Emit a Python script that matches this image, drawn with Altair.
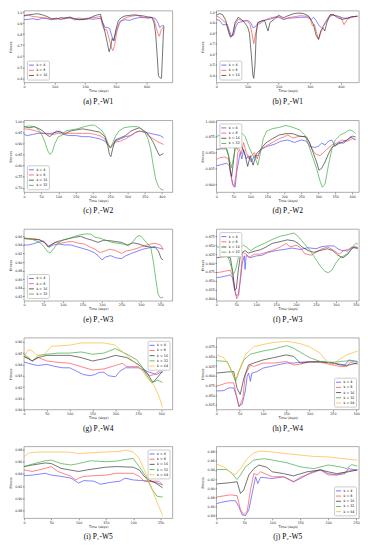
import altair as alt
import pandas as pd

LABELS = ["k = 4", "k = 8", "k = 16", "k = 32", "k = 64"]
COLORS = ["#4a4aff", "#ff4a4a", "#333333", "#3aa83a", "#ffb52e"]

# (a) P1-W1
A_K4 = [(0,0.93),(15,0.935),(30,0.94),(45,0.93),(60,0.945),(75,0.94),(90,0.93),(105,0.945),(120,0.935),(135,0.94),(150,0.95),(165,0.93),(180,0.935),(195,0.93),(210,0.94),(225,0.935),(240,0.94),(250,0.945),(258,0.90),(265,0.86),(272,0.86),(280,0.85),(287,0.78),(292,0.74),(298,0.80),(305,0.86),(315,0.92),(330,0.93),(345,0.925),(360,0.94),(375,0.95),(390,0.95),(405,0.945),(420,0.95),(430,0.94),(438,0.90),(443,0.86),(450,0.875),(457,0.88)]
A_K8 = [(0,0.965),(15,0.97),(30,0.96),(45,0.955),(60,0.95),(75,0.945),(90,0.935),(105,0.945),(120,0.93),(135,0.95),(150,0.945),(165,0.94),(180,0.945),(195,0.94),(210,0.945),(225,0.95),(240,0.955),(250,0.96),(256,0.88),(262,0.84),(270,0.84),(278,0.76),(285,0.68),(290,0.65),(296,0.70),(303,0.82),(312,0.90),(325,0.94),(340,0.955),(355,0.965),(370,0.97),(385,0.955),(400,0.95),(415,0.955),(425,0.93),(432,0.86),(438,0.80),(442,0.78),(448,0.84),(457,0.87)]
A_K16 = [(0,0.97),(15,0.975),(30,0.98),(45,0.985),(60,0.975),(75,0.96),(90,0.94),(105,0.935),(120,0.95),(135,0.945),(150,0.955),(165,0.94),(180,0.93),(195,0.935),(210,0.94),(225,0.96),(240,0.975),(250,0.98),(255,0.92),(260,0.87),(266,0.80),(272,0.72),(278,0.64),(283,0.68),(288,0.76),(294,0.74),(300,0.84),(308,0.92),(318,0.95),(330,0.965),(345,0.97),(360,0.975),(375,0.97),(390,0.965),(405,0.955),(418,0.95),(425,0.90),(430,0.80),(435,0.60),(439,0.42),(445,0.40),(449,0.40),(452,0.60),(455,0.80),(457,0.87)]

# (b) P2-W1
B_K4 = [(0,0.93),(10,0.92),(20,0.88),(35,0.88),(42,0.82),(48,0.77),(55,0.78),(62,0.86),(70,0.90),(85,0.91),(100,0.92),(110,0.90),(118,0.85),(125,0.86),(135,0.90),(150,0.92),(170,0.93),(185,0.945),(200,0.95),(215,0.93),(230,0.94),(250,0.945),(270,0.95),(290,0.95),(305,0.93),(312,0.95),(320,0.92),(330,0.87),(338,0.85),(345,0.87),(355,0.92),(365,0.96),(375,0.97),(390,0.96),(405,0.945),(420,0.94),(435,0.955),(453,0.96)]
B_K8 = [(0,0.96),(10,0.95),(20,0.92),(30,0.90),(38,0.84),(45,0.77),(52,0.78),(60,0.88),(70,0.93),(85,0.92),(100,0.915),(108,0.88),(114,0.80),(120,0.70),(125,0.78),(132,0.88),(145,0.90),(160,0.93),(175,0.945),(200,0.96),(215,0.93),(230,0.945),(250,0.955),(270,0.965),(290,0.96),(300,0.95),(308,0.87),(315,0.88),(322,0.80),(328,0.74),(335,0.80),(345,0.88),(355,0.93),(365,0.97),(375,0.975),(390,0.96),(400,0.95),(410,0.88),(420,0.93),(435,0.95),(453,0.96)]
B_K16 = [(0,0.97),(10,0.985),(20,0.975),(30,0.92),(38,0.82),(45,0.76),(52,0.78),(60,0.90),(70,0.95),(80,0.93),(90,0.90),(100,0.86),(106,0.80),(112,0.60),(117,0.40),(120,0.37),(124,0.50),(128,0.80),(133,0.90),(145,0.915),(155,0.92),(162,0.85),(166,0.82),(172,0.90),(185,0.93),(200,0.97),(215,0.945),(230,0.965),(250,0.985),(265,0.99),(280,0.985),(295,0.965),(305,0.92),(312,0.88),(320,0.78),(328,0.74),(335,0.82),(342,0.85),(348,0.82),(355,0.90),(365,0.975),(375,0.975),(390,0.945),(405,0.93),(420,0.94),(435,0.955),(453,0.96)]

# (c) P1-W2
C_K4 = [(0,0.94),(10,0.935),(25,0.94),(40,0.945),(60,0.945),(80,0.945),(95,0.95),(105,0.955),(115,0.94),(130,0.935),(150,0.935),(170,0.93),(190,0.93),(205,0.925),(220,0.92),(235,0.91),(245,0.89),(252,0.88),(258,0.895),(265,0.91),(280,0.92),(295,0.93),(310,0.935),(325,0.95),(335,0.955),(350,0.95),(365,0.945),(380,0.94),(395,0.935),(405,0.925)]
C_K8 = [(0,0.965),(15,0.963),(30,0.958),(45,0.95),(55,0.945),(70,0.942),(85,0.94),(100,0.945),(115,0.94),(130,0.945),(150,0.945),(170,0.945),(190,0.945),(205,0.94),(220,0.935),(235,0.92),(245,0.895),(250,0.88),(256,0.89),(265,0.905),(280,0.91),(295,0.92),(310,0.935),(325,0.95),(338,0.955),(350,0.95),(360,0.935),(375,0.92),(390,0.905),(405,0.895)]
C_K16 = [(0,0.975),(15,0.97),(30,0.975),(45,0.965),(55,0.955),(65,0.94),(75,0.93),(85,0.945),(95,0.955),(105,0.95),(120,0.945),(135,0.955),(150,0.96),(170,0.965),(190,0.96),(205,0.955),(220,0.95),(235,0.93),(243,0.89),(248,0.85),(252,0.84),(258,0.88),(265,0.915),(280,0.925),(295,0.935),(310,0.955),(325,0.965),(335,0.97),(345,0.96),(355,0.95),(365,0.93),(375,0.905),(385,0.87),(393,0.845),(400,0.85),(405,0.855)]
C_K32 = [(0,0.975),(15,0.978),(30,0.975),(40,0.965),(50,0.945),(60,0.91),(68,0.87),(75,0.85),(82,0.86),(90,0.90),(100,0.93),(110,0.935),(120,0.955),(135,0.96),(155,0.965),(175,0.975),(195,0.982),(205,0.982),(215,0.97),(225,0.96),(235,0.935),(245,0.895),(250,0.88),(257,0.90),(265,0.93),(275,0.955),(290,0.97),(310,0.975),(330,0.975),(340,0.965),(350,0.95),(360,0.92),(368,0.87),(375,0.80),(382,0.74),(390,0.705),(398,0.693),(405,0.69)]

# (d) P2-W2
D_K4 = [(0,0.929),(15,0.931),(30,0.933),(38,0.929),(44,0.91),(50,0.897),(55,0.895),(60,0.92),(65,0.935),(70,0.95),(75,0.94),(80,0.955),(88,0.94),(95,0.945),(103,0.935),(112,0.945),(122,0.945),(132,0.955),(150,0.96),(170,0.963),(190,0.968),(210,0.97),(230,0.966),(250,0.97),(265,0.968),(275,0.96),(290,0.958),(300,0.96),(310,0.965),(320,0.962),(330,0.968),(340,0.97),(350,0.96),(360,0.966),(375,0.965),(385,0.97),(395,0.975),(410,0.97)]
D_K8 = [(0,0.939),(10,0.942),(25,0.943),(36,0.94),(42,0.92),(47,0.90),(52,0.896),(58,0.915),(63,0.95),(68,0.955),(73,0.948),(80,0.966),(88,0.95),(96,0.94),(104,0.945),(112,0.95),(120,0.94),(130,0.955),(145,0.96),(165,0.966),(185,0.972),(200,0.975),(210,0.978),(225,0.973),(245,0.976),(262,0.975),(272,0.968),(282,0.955),(292,0.948),(305,0.945),(315,0.95),(325,0.955),(340,0.962),(355,0.965),(370,0.97),(385,0.968),(400,0.972),(410,0.971)]
D_K16 = [(0,0.955),(15,0.956),(30,0.956),(36,0.945),(41,0.92),(45,0.912),(50,0.935),(55,0.96),(62,0.955),(70,0.965),(78,0.955),(85,0.945),(92,0.928),(100,0.945),(108,0.93),(118,0.948),(130,0.955),(145,0.965),(165,0.972),(185,0.978),(205,0.98),(225,0.98),(245,0.976),(265,0.975),(275,0.965),(285,0.95),(295,0.935),(302,0.922),(310,0.925),(320,0.935),(330,0.948),(340,0.958),(355,0.963),(370,0.966),(385,0.97),(400,0.976),(410,0.975)]
D_K32 = [(0,0.975),(10,0.978),(20,0.97),(30,0.955),(38,0.94),(44,0.926),(50,0.94),(57,0.96),(65,0.975),(75,0.981),(85,0.975),(95,0.96),(105,0.948),(115,0.94),(122,0.93),(130,0.95),(138,0.972),(148,0.984),(165,0.988),(185,0.99),(205,0.993),(225,0.99),(245,0.986),(260,0.978),(270,0.965),(282,0.945),(295,0.925),(305,0.905),(312,0.895),(320,0.90),(330,0.93),(340,0.955),(350,0.97),(365,0.978),(380,0.982),(392,0.986),(402,0.984),(410,0.98)]

# (e) P1-W3
E_K4 = [(0,0.94),(12,0.94),(25,0.943),(40,0.947),(50,0.949),(58,0.942),(65,0.935),(75,0.94),(90,0.942),(105,0.94),(120,0.94),(135,0.936),(150,0.932),(165,0.928),(180,0.922),(190,0.915),(200,0.905),(210,0.912),(222,0.915),(235,0.91),(250,0.908),(260,0.914),(275,0.92),(290,0.925),(305,0.93),(320,0.933),(335,0.936),(345,0.933),(357,0.93)]
E_K8 = [(0,0.955),(12,0.953),(25,0.955),(40,0.952),(52,0.947),(62,0.937),(70,0.94),(80,0.946),(95,0.944),(110,0.947),(125,0.948),(140,0.944),(155,0.942),(170,0.935),(182,0.93),(195,0.922),(205,0.925),(220,0.93),(235,0.927),(250,0.92),(262,0.926),(275,0.928),(290,0.932),(305,0.937),(320,0.941),(335,0.944),(350,0.94),(357,0.93)]
E_K16 = [(0,0.956),(12,0.955),(25,0.953),(40,0.952),(52,0.946),(62,0.935),(72,0.942),(85,0.948),(100,0.951),(115,0.955),(130,0.958),(145,0.96),(160,0.955),(175,0.951),(190,0.946),(205,0.951),(220,0.95),(235,0.948),(250,0.946),(265,0.94),(280,0.945),(295,0.942),(310,0.937),(325,0.935),(337,0.934),(345,0.925),(352,0.908),(357,0.905)]
E_K32 = [(0,0.955),(15,0.955),(30,0.95),(42,0.945),(52,0.935),(60,0.925),(67,0.921),(75,0.93),(85,0.942),(100,0.952),(115,0.955),(130,0.96),(145,0.964),(160,0.966),(172,0.965),(182,0.958),(195,0.956),(210,0.951),(225,0.946),(240,0.944),(255,0.942),(268,0.938),(280,0.948),(290,0.96),(298,0.962),(305,0.955),(315,0.945),(325,0.935),(332,0.90),(338,0.86),(344,0.825),(350,0.816),(357,0.818)]

# (f) P2-W3
F_K4 = [(0,0.859),(12,0.861),(25,0.864),(35,0.867),(40,0.86),(45,0.83),(50,0.808),(55,0.812),(60,0.85),(65,0.90),(70,0.92),(72,0.882),(75,0.922),(85,0.915),(100,0.92),(115,0.922),(130,0.93),(150,0.935),(170,0.938),(190,0.942),(210,0.938),(230,0.943),(250,0.94),(265,0.946),(280,0.948),(295,0.948),(305,0.94),(315,0.935),(330,0.934),(340,0.945),(348,0.942),(355,0.94)]
F_K8 = [(0,0.873),(12,0.875),(25,0.878),(35,0.88),(42,0.86),(47,0.82),(51,0.80),(56,0.81),(61,0.87),(66,0.93),(75,0.925),(82,0.915),(95,0.925),(110,0.925),(125,0.93),(140,0.935),(160,0.945),(175,0.955),(185,0.945),(200,0.95),(210,0.944),(222,0.926),(238,0.922),(250,0.93),(265,0.94),(280,0.945),(295,0.935),(308,0.925),(320,0.935),(335,0.94),(345,0.946),(355,0.94)]
F_K16 = [(0,0.915),(12,0.917),(25,0.918),(35,0.915),(41,0.875),(46,0.825),(50,0.828),(55,0.88),(60,0.92),(65,0.93),(72,0.935),(80,0.928),(95,0.933),(110,0.937),(125,0.945),(140,0.955),(160,0.96),(178,0.965),(195,0.962),(205,0.955),(215,0.945),(230,0.935),(245,0.93),(260,0.935),(278,0.94),(292,0.935),(305,0.922),(318,0.915),(330,0.925),(340,0.94),(348,0.945),(355,0.944)]
F_K32 = [(0,0.945),(12,0.945),(22,0.935),(30,0.915),(37,0.89),(42,0.868),(48,0.88),(55,0.915),(62,0.945),(68,0.95),(76,0.944),(86,0.935),(100,0.945),(120,0.955),(140,0.966),(160,0.975),(180,0.98),(195,0.984),(205,0.975),(220,0.955),(235,0.935),(250,0.91),(262,0.89),(272,0.877),(281,0.873),(290,0.88),(300,0.90),(310,0.915),(320,0.92),(332,0.93),(342,0.945),(350,0.955),(355,0.953)]

# (g) P1-W4
G_K4 = [(0,0.942),(10,0.941),(18,0.94),(30,0.939),(50,0.94),(70,0.938),(85,0.937),(100,0.937),(115,0.934),(130,0.931),(145,0.93),(155,0.931),(165,0.933),(175,0.933),(185,0.93),(200,0.929),(210,0.934),(222,0.937),(235,0.937),(250,0.937),(262,0.935),(275,0.933),(290,0.931),(298,0.933),(303,0.933)]
G_K8 = [(0,0.947),(10,0.945),(18,0.943),(32,0.946),(50,0.943),(70,0.942),(100,0.941),(125,0.938),(150,0.935),(175,0.936),(200,0.939),(215,0.941),(225,0.938),(250,0.938),(262,0.934),(275,0.93),(285,0.931),(295,0.934),(303,0.935)]
G_K16 = [(0,0.947),(10,0.945),(18,0.943),(30,0.946),(50,0.948),(75,0.948),(100,0.948),(125,0.946),(150,0.943),(162,0.944),(175,0.945),(200,0.948),(225,0.946),(250,0.94),(262,0.936),(270,0.932),(282,0.924),(293,0.929),(303,0.934)]
G_K32 = [(0,0.949),(10,0.946),(18,0.943),(32,0.948),(50,0.949),(75,0.95),(100,0.95),(125,0.951),(150,0.949),(175,0.95),(200,0.954),(215,0.951),(225,0.949),(247,0.944),(258,0.938),(266,0.932),(279,0.924),(293,0.926),(303,0.924)]
G_K64 = [(0,0.947),(10,0.953),(18,0.952),(25,0.949),(40,0.947),(60,0.956),(100,0.957),(125,0.959),(150,0.959),(175,0.959),(200,0.957),(210,0.953),(228,0.947),(247,0.94),(258,0.935),(268,0.929),(285,0.921),(296,0.911),(303,0.902)]

# (h) P2-W4
H_K4 = [(0,0.861),(16,0.862),(26,0.869),(37,0.869),(43,0.848),(48,0.822),(55,0.827),(62,0.861),(66,0.899),(69,0.907),(73,0.886),(76,0.907),(87,0.911),(100,0.92),(116,0.924),(130,0.928),(150,0.933),(166,0.933),(180,0.935),(200,0.937),(223,0.935),(250,0.933),(266,0.93),(276,0.928),(284,0.941),(303,0.937)]
H_K8 = [(0,0.873),(23,0.882),(37,0.882),(44,0.844),(49,0.82),(57,0.844),(62,0.903),(73,0.928),(80,0.924),(100,0.933),(123,0.933),(150,0.937),(166,0.928),(180,0.93),(200,0.937),(223,0.935),(250,0.928),(266,0.924),(280,0.924),(287,0.935),(303,0.93)]
H_K16 = [(0,0.907),(23,0.91),(37,0.911),(44,0.869),(51,0.852),(59,0.894),(69,0.928),(80,0.933),(100,0.941),(123,0.947),(150,0.954),(166,0.95),(180,0.933),(200,0.935),(223,0.937),(250,0.933),(266,0.928),(280,0.927),(303,0.933)]
H_K32 = [(0,0.939),(23,0.937),(30,0.92),(41,0.886),(48,0.911),(59,0.941),(73,0.956),(100,0.964),(123,0.969),(151,0.978),(166,0.971),(180,0.961),(200,0.947),(223,0.937),(250,0.935),(266,0.937),(287,0.939),(303,0.935)]
H_K64 = [(0,0.954),(16,0.947),(26,0.928),(37,0.899),(44,0.894),(51,0.92),(62,0.954),(80,0.975),(100,0.981),(123,0.986),(151,0.989),(180,0.983),(200,0.975),(223,0.958),(237,0.937),(250,0.928),(262,0.941),(280,0.954),(303,0.964)]

# (i) P1-W5
I_K4 = [(0,0.937),(15,0.938),(39,0.941),(50,0.938),(68,0.936),(86,0.933),(95,0.928),(100,0.925),(110,0.929),(128,0.928),(140,0.923),(158,0.926),(176,0.928),(185,0.933),(200,0.93),(217,0.929),(229,0.928),(241,0.926),(254,0.922)]
I_K8 = [(0,0.9465),(15,0.944),(39,0.949),(50,0.952),(62,0.944),(86,0.936),(95,0.93),(100,0.933),(110,0.936),(128,0.937),(150,0.938),(169,0.941),(187,0.941),(200,0.941),(211,0.936),(220,0.928),(235,0.928),(247,0.928),(254,0.922)]
I_K16 = [(0,0.952),(15,0.9546),(39,0.958),(50,0.957),(68,0.949),(100,0.944),(115,0.9465),(134,0.949),(150,0.951),(169,0.952),(200,0.951),(211,0.9465),(220,0.936),(229,0.93),(241,0.925),(254,0.917)]
I_K32 = [(0,0.952),(15,0.956),(39,0.9616),(50,0.9627),(68,0.957),(86,0.9546),(100,0.957),(122,0.9616),(150,0.96),(169,0.961),(187,0.9638),(200,0.9654),(211,0.952),(223,0.936),(235,0.914),(244,0.903),(254,0.902)]
I_K64 = [(0,0.968),(9,0.9746),(27,0.976),(50,0.976),(80,0.976),(100,0.9735),(122,0.9746),(150,0.976),(175,0.977),(187,0.979),(200,0.976),(211,0.9654),(223,0.941),(235,0.914),(244,0.892),(254,0.872)]

# (j) P2-W5
J_K4 = [(0,0.865),(7,0.868),(25,0.872),(34,0.872),(40,0.859),(46,0.841),(52,0.839),(58,0.852),(64,0.888),(70,0.925),(74,0.91),(79,0.924),(100,0.921),(120,0.925),(138,0.914),(150,0.921),(168,0.934),(186,0.941),(200,0.932),(215,0.929),(230,0.932),(236,0.943),(252,0.94)]
J_K8 = [(0,0.88),(25,0.885),(37,0.883),(43,0.852),(49,0.841),(55,0.848),(61,0.896),(67,0.932),(73,0.929),(79,0.936),(100,0.925),(120,0.925),(138,0.914),(150,0.924),(168,0.932),(186,0.94),(200,0.929),(215,0.929),(236,0.938),(252,0.94)]
J_K16 = [(0,0.909),(25,0.912),(37,0.914),(43,0.888),(49,0.896),(58,0.929),(67,0.943),(76,0.951),(90,0.946),(100,0.936),(120,0.932),(138,0.927),(162,0.936),(186,0.94),(200,0.936),(215,0.932),(236,0.936),(252,0.94)]
J_K32 = [(0,0.941),(19,0.941),(28,0.932),(37,0.919),(43,0.929),(52,0.947),(67,0.962),(85,0.965),(100,0.962),(126,0.956),(150,0.947),(174,0.943),(200,0.951),(221,0.947),(233,0.943),(242,0.952),(252,0.9485)]
J_K64 = [(0,0.953),(13,0.947),(28,0.932),(34,0.93),(43,0.943),(55,0.965),(67,0.978),(79,0.982),(100,0.98),(126,0.976),(150,0.973),(174,0.97),(200,0.969),(227,0.965),(252,0.962)]

CAPTIONS = ["(a) P\u2081-W1", "(b) P\u2082-W1", "(c) P\u2081-W2", "(d) P\u2082-W2", "(e) P\u2081-W3",
            "(f) P\u2082-W3", "(g) P\u2081-W4", "(h) P\u2082-W4", "(i) P\u2081-W5", "(j) P\u2082-W5"]

H = 72
W_LEFT = 149
W_RIGHT = 143


def panel(series, xmax, xticks, ydom, yticks, yfmt, caption, legend_orient, width):
    rows = []
    labels = LABELS[:len(series)]
    for lab, pts in zip(labels, series):
        for d, v in pts:
            rows.append({"day": d, "val": v, "k": lab})
    df = pd.DataFrame(rows)
    color = alt.Color(
        "k:N",
        scale=alt.Scale(domain=labels, range=COLORS[:len(series)]),
        legend=alt.Legend(orient=legend_orient, title=None, symbolType="stroke",
                          symbolSize=25, symbolStrokeWidth=0.9, labelFontSize=3.3,
                          labelFont="DejaVu Sans", labelOffset=2, padding=1.5,
                          rowPadding=0.2, strokeColor="#cccccc", fillColor="white",
                          cornerRadius=1, offset=3, labelLimit=40),
    )
    return (
        alt.Chart(df)
        .mark_line(strokeWidth=0.8, opacity=0.85, clip=True)
        .encode(
            x=alt.X("day:Q", scale=alt.Scale(domain=[0, xmax], nice=False, zero=False),
                    axis=alt.Axis(values=xticks, title="Time (days)", format="d",
                                  labelFlush=False)),
            y=alt.Y("val:Q", scale=alt.Scale(domain=ydom, nice=False, zero=False),
                    axis=alt.Axis(values=yticks, format=yfmt, title="Fitness",
                                  minExtent=11, maxExtent=11)),
            color=color,
            order=alt.Order("day:Q"),
        )
        .properties(width=width, height=H,
                    title=alt.TitleParams(caption, orient="bottom", frame="group",
                                          anchor="middle",
                                          font="Liberation Serif, DejaVu Serif",
                                          fontSize=7.5, fontWeight="normal",
                                          color="black", offset=6))
    )


def steps(a, b, s):
    out = []
    v = a
    while v <= b + 1e-9:
        out.append(round(v, 4))
        v += s
    return out


pa = panel([A_K4, A_K8, A_K16], 485, steps(0, 400, 100), [0.36, 1.012], steps(0.4, 1.0, 0.1), ".1f", CAPTIONS[0], "bottom-left", W_LEFT)
pb = panel([B_K4, B_K8, B_K16], 458, steps(0, 400, 100), [0.33, 1.012], steps(0.4, 1.0, 0.1), ".1f", CAPTIONS[1], "bottom-left", W_RIGHT)
pc = panel([C_K4, C_K8, C_K16, C_K32], 431, steps(0, 400, 50), [0.68, 1.003], steps(0.70, 1.0, 0.05), ".2f", CAPTIONS[2], "bottom-left", W_LEFT)
pd_ = panel([D_K4, D_K8, D_K16, D_K32], 420, steps(0, 400, 50), [0.887, 1.001], steps(0.9, 1.0, 0.025), ".3f", CAPTIONS[3], "top-left", W_RIGHT)
pe = panel([E_K4, E_K8, E_K16, E_K32], 381, steps(0, 350, 50), [0.809, 0.977], steps(0.82, 0.96, 0.02), ".2f", CAPTIONS[4], "bottom-left", W_LEFT)
pf = panel([F_K4, F_K8, F_K16, F_K32], 358, steps(0, 350, 50), [0.794, 0.995], steps(0.8, 0.975, 0.025), ".3f", CAPTIONS[5], "top-left", W_RIGHT)
pg = panel([G_K4, G_K8, G_K16, G_K32, G_K64], 325, steps(0, 300, 50), [0.900, 0.9635], steps(0.90, 0.96, 0.01), ".2f", CAPTIONS[6], "top-right", W_LEFT)
ph = panel([H_K4, H_K8, H_K16, H_K32, H_K64], 306, steps(0, 300, 50), [0.813, 0.998], steps(0.825, 0.975, 0.025), ".3f", CAPTIONS[7], "bottom-right", W_RIGHT)
pi = panel([I_K4, I_K8, I_K16, I_K32, I_K64], 272, steps(0, 250, 50), [0.867, 0.985], steps(0.88, 0.98, 0.02), ".2f", CAPTIONS[8], "top-right", W_LEFT)
pj = panel([J_K4, J_K8, J_K16, J_K32, J_K64], 255, steps(0, 250, 50), [0.833, 0.992], steps(0.84, 0.98, 0.02), ".2f", CAPTIONS[9], "bottom-right", W_RIGHT)

rows = []
for l, r in [(pa, pb), (pc, pd_), (pe, pf), (pg, ph), (pi, pj)]:
    rows.append(alt.hconcat(l, r, spacing=27).resolve_scale(color="independent", x="independent", y="independent").resolve_legend(color="independent"))

chart = (
    alt.vconcat(*rows, spacing=13)
    .resolve_scale(color="independent", x="independent", y="independent")
    .resolve_legend(color="independent")
    .properties(padding=0, background="white")
    .configure_view(stroke="#777777", strokeWidth=0.6)
    .configure_axis(grid=False, domain=False, tickSize=1.5, tickWidth=0.5, tickColor="#333333",
                    labelFontSize=3.3, labelFont="DejaVu Sans", labelColor="#222222",
                    labelPadding=0.5, titleFontSize=3.3, titleFont="DejaVu Sans",
                    titleFontWeight="normal", titleColor="#222222", titlePadding=0.5)
)

chart.save("out.html", embed_options={"renderer": "svg", "actions": False})
